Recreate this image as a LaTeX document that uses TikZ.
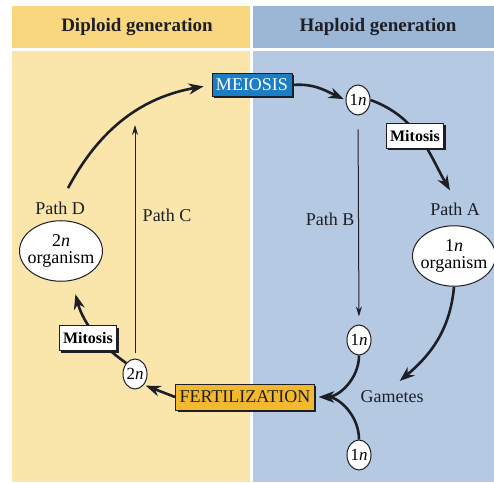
\documentclass[tikz,border=0pt]{standalone}
\usepackage{fontspec}
\setmainfont{Liberation Serif}
\usetikzlibrary{arrows.meta,shapes.geometric,shadows}
\definecolor{diphead}{HTML}{F8D77E}
\definecolor{dipbody}{HTML}{FAE6AB}
\definecolor{haphead}{HTML}{9CB7D5}
\definecolor{hapbody}{HTML}{B5CAE2}
\definecolor{meiblue}{HTML}{1B7DC3}
\definecolor{fertgold}{HTML}{F2B92E}
\definecolor{ink}{HTML}{1E1E26}
\tikzset{
  hd/.style={font=\fontsize{19}{21}\selectfont\bfseries, text=ink},
  lbl/.style={font=\fontsize{18}{20}\selectfont, text=ink},
  cell/.style={ellipse, draw=ink, line width=1pt, fill=white, inner sep=0pt,
    minimum width=24pt, minimum height=30pt, font=\fontsize{17}{19}\selectfont},
  org/.style={ellipse, draw=ink, line width=1pt, fill=white, inner xsep=-4pt,
    inner ysep=5pt, align=center, font=\fontsize{18}{17}\selectfont},
  boxshadow/.style={drop shadow={shadow xshift=2pt, shadow yshift=-2pt, fill=ink, opacity=1}},
  mit/.style={draw=ink, line width=1pt, fill=white, inner xsep=4pt, minimum height=25pt,
    font=\fontsize{16}{18}\selectfont\bfseries, boxshadow},
  event/.style={draw=ink, line width=1pt, inner xsep=4pt, inner ysep=0pt,
    font=\fontsize{18}{20}\selectfont, boxshadow},
  bigarrow/.style={ink, line width=2.6pt, -{Stealth[length=15pt,width=11pt]}},
  thinarrow/.style={ink, line width=1pt, -{Stealth[length=10pt,width=6pt]}}
}

\begin{document}
\begin{tikzpicture}[x=1pt,y=1pt]
\useasboundingbox (0,0) rectangle (494,482);
\fill [diphead] (12,434) rectangle (250,476);
\fill [dipbody] (12,0) rectangle (250,431);
\fill [haphead] (253,434) rectangle (494,476);
\fill [hapbody] (253,0) rectangle (494,431);

\node [hd] (diphd) at (137,455) {Diploid generation};
\node [hd] (haphd) at (378,455) {Haploid generation};

\node [event, fill=meiblue, text=white, minimum width=78pt, minimum height=23pt] (meiosis) at (252,397) {MEIOSIS};
\node [event, fill=fertgold, text=ink, minimum width=135pt, minimum height=26pt] (fert) at (245,85) {FERTILIZATION};

\node [cell] (oneA) at (358,382) {1\textit{n}};
\node [cell] (oneB) at (359,142) {1\textit{n}};
\node [cell] (oneC) at (359,27) {1\textit{n}};
\node [cell] (twon) at (135,108) {2\textit{n}};

\node [lbl] (pathA) at (455,273) {Path A};
\node [org] (orgA) at (454,226) {1\textit{n}\\organism};
\node [lbl] (pathB) at (330,263) {Path B};
\node [lbl] (pathC) at (167,267) {Path C};
\node [lbl] (pathD) at (60,274) {Path D};
\node [org] (orgD) at (61,231) {2\textit{n}\\organism};
\node [lbl] (gam) at (392,85) {Gametes};
\coordinate (ctop) at (135,357);

\draw [bigarrow, shorten >=8pt] ([xshift=8pt,yshift=10pt]pathD.north) to[out=62,in=190] (meiosis.west);
\draw [bigarrow, shorten >=2pt] (meiosis.east) to[out=5,in=155] (oneA.west);
\draw [bigarrow, shorten >=10pt] (oneA.east) to[out=-20,in=120] (pathA.north);
\draw [thinarrow, shorten <=14pt, shorten >=8pt] (oneA.south) -- (oneB.north);
\draw [bigarrow, shorten >=10pt] (orgA.south) to[out=-95,in=40] (gam.north);
\draw [bigarrow, shorten >=4pt] (oneB.south) to[out=-90,in=0] (fert.east);
\draw [bigarrow, shorten >=4pt] (oneC.north) to[out=90,in=0] (fert.east);
\draw [bigarrow, shorten >=2pt] (fert.west) -- (twon.south east);
\draw [bigarrow, shorten >=14pt] (twon.north west) to[out=145,in=-75] (orgD.-70);
\draw [thinarrow, shorten <=6pt] (twon.north) -- (ctop);

\node [mit] (mitR) at (415,346) {Mitosis};
\node [mit] (mitL) at (88,144) {Mitosis};
\end{tikzpicture}
\end{document}
